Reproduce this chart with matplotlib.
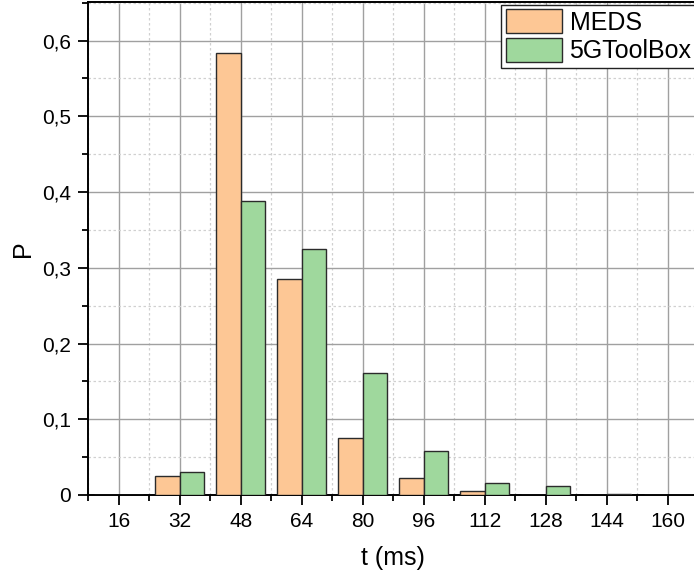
import matplotlib.pyplot as plt
import numpy as np
from matplotlib.ticker import MultipleLocator, FuncFormatter

plt.rcParams['font.family'] = ['Liberation Sans', 'DejaVu Sans']

# data
t = [16, 32, 48, 64, 80, 96, 112, 128, 144, 160]
meds = [0.0, 0.025, 0.583, 0.285, 0.075, 0.022, 0.005, 0.0, 0.0, 0.0]
toolbox = [0.0, 0.031, 0.388, 0.325, 0.161, 0.058, 0.016, 0.012, 0.0015, 0.0]

#plot
fig = plt.figure(figsize=(6.94, 5.76), dpi=100)
ax = fig.add_axes([88/694, 81/576, (698.5-88)/694, 493/576])

w = 6.4
x = np.array(t)
ax.bar(x - w/2, meds, w, color='#fdc795', edgecolor='#2b2b2b', linewidth=1.0,
       label='MEDS', zorder=3)
ax.bar(x + w/2, toolbox, w, color='#9fd89d', edgecolor='#2b2b2b', linewidth=1.0,
       label='5GToolBox', zorder=3)

ax.set_xlim(8, 168)
ax.set_ylim(0, 0.651)
ax.set_xticks(t)
ax.xaxis.set_minor_locator(MultipleLocator(8))
ax.yaxis.set_major_locator(MultipleLocator(0.1))
ax.yaxis.set_minor_locator(MultipleLocator(0.05))
ax.yaxis.set_major_formatter(FuncFormatter(
    lambda v, p: '0' if abs(v) < 1e-9 else ('%.1f' % v).replace('.', ',')))

ax.grid(which='major', color='#a0a0a0', linewidth=1.0, zorder=0)
ax.grid(which='minor', color='#d0d0d0', linestyle=(0, (2, 2)), linewidth=0.9, zorder=0)
ax.set_axisbelow(True)

ax.tick_params(which='major', direction='out', length=7, width=1.3, labelsize=15, pad=5)
ax.tick_params(which='minor', direction='out', length=4, width=1.3)
for s in ['left', 'bottom', 'top']:
    ax.spines[s].set_linewidth(1.4)
ax.spines['right'].set_visible(False)

ax.set_xlabel('t (ms)', fontsize=18, labelpad=11)
ax.set_ylabel('P', fontsize=18, labelpad=5)

leg = ax.legend(loc='upper right', bbox_to_anchor=(1.0, 1.0),
                fontsize=18, fancybox=False, framealpha=1, edgecolor='#222222',
                handlelength=2.25, handleheight=1.1, borderaxespad=0.1,
                handletextpad=0.3, labelspacing=0.12, borderpad=0.18)
leg.get_frame().set_linewidth(1.0)

plt.savefig('out.png', dpi=100)
